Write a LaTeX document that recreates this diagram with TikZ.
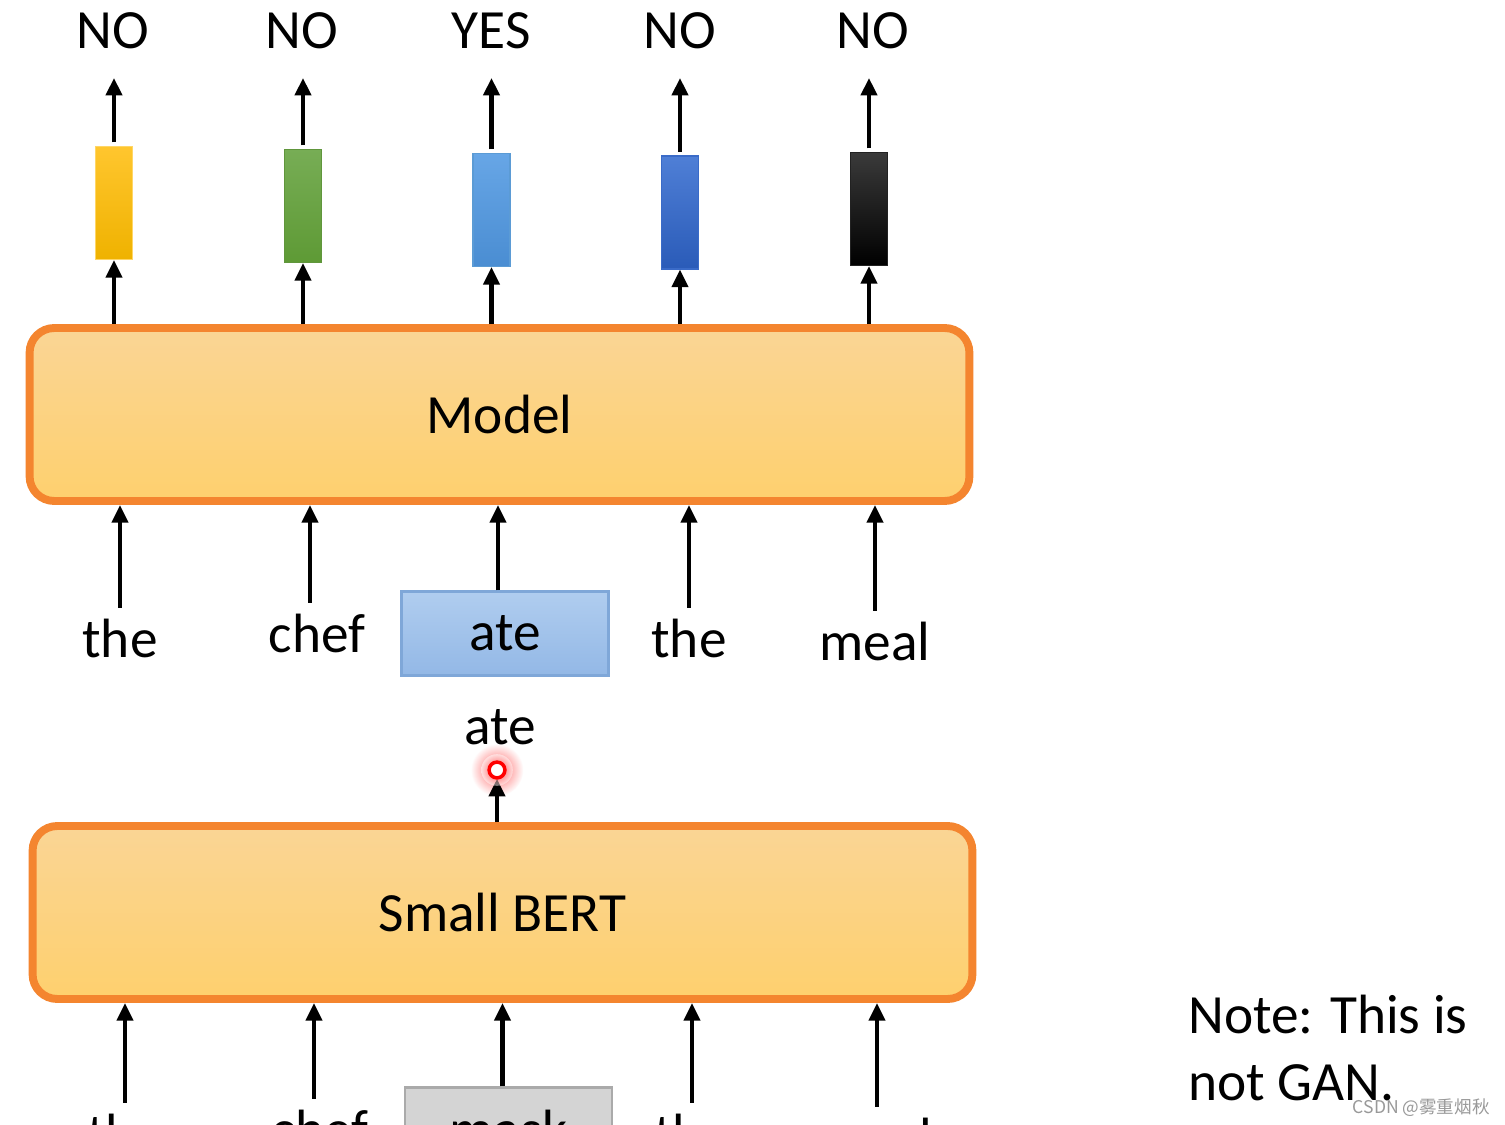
\documentclass[tikz,border=0pt]{standalone}
\usepackage{fontspec}
\setmainfont{Carlito}
\newfontfamily\cjkfont{Noto Sans CJK SC}
\usetikzlibrary{positioning}
\usetikzlibrary{arrows.meta}
\usetikzlibrary{calc}
\definecolor{boxline}{HTML}{F4852F}
\definecolor{boxtop}{HTML}{FAD595}
\definecolor{boxbottom}{HTML}{FED06E}
\definecolor{tokline}{HTML}{7FA7D8}
\definecolor{toktop}{HTML}{B0CDEF}
\definecolor{tokbottom}{HTML}{93B8E6}
\newcommand{\bigtext}{\fontsize{31.5}{37}\selectfont}
\tikzset{big box/.style={draw=boxline,line width=4.5pt,rounded corners=14pt,top color=boxtop,bottom color=boxbottom,minimum width=18.8cm,minimum height=3.46cm,font=\bigtext},
	vec/.style={minimum width=0.74cm,minimum height=2.26cm,inner sep=0pt,line width=0.6pt},
	word/.style={anchor=base,inner sep=6pt,font=\bigtext},
	tok box/.style={minimum width=4.14cm,minimum height=1.68cm,line width=1.2pt,font=\bigtext},
	pointer/.style={circle,draw=red,line width=2pt,fill=white,minimum size=9pt,inner sep=0pt},
	up/.style={-{Triangle[length=10pt,width=9pt]},line width=2.8pt},}

\begin{document}
\begin{tikzpicture}[x=0.02cm,y=-0.02cm]
		\useasboundingbox (0,0) rectangle (1505,1125);
		\clip (0,0) rectangle (1505,1125);
		\fill[white] (0,0) rectangle (1505,1125);

		\node[vec,top color={rgb,255:red,255;green,198;blue,46},bottom color={rgb,255:red,239;green,178;blue,0},draw={rgb,255:red,255;green,214;blue,102}] (v1) at (114,203) {};
		\node[vec,top color={rgb,255:red,119;green,173;blue,85},bottom color={rgb,255:red,94;green,154;blue,53},draw={rgb,255:red,96;green,150;blue,60}] (v2) at (303,206) {};
		\node[vec,top color={rgb,255:red,103;green,166;blue,230},bottom color={rgb,255:red,74;green,141;blue,210},draw={rgb,255:red,91;green,155;blue,213}] (v3) at (491.5,210) {};
		\node[vec,top color={rgb,255:red,79;green,127;blue,214},bottom color={rgb,255:red,42;green,91;blue,184},draw={rgb,255:red,58;green,107;blue,200}] (v4) at (680,212.5) {};
		\node[vec,top color={rgb,255:red,58;green,58;blue,58},bottom color=black,draw={rgb,255:red,34;green,34;blue,34}] (v5) at (869,209) {};

		\node[word] (o1) at (113,49) {NO};
		\node[word] (o2) at (302,49) {NO};
		\node[word] (o3) at (491,49) {YES};
		\node[word] (o4) at (680,49) {NO};
		\node[word] (o5) at (873,49) {NO};

		\node[big box] (model) at (499.5,414.5) {Model};

		\node[word] (w1) at (120,657) {the};
		\node[word] (w2) at (317,652) {chef};
		\node[tok box,top color=toktop,bottom color=tokbottom,draw=tokline] (w3) at (505,633.5) {ate};
		\node[word] (w4) at (689,657) {the};
		\node[word] (w5) at (875,660) {meal};

		\coordinate (ptrc) at (497,770);
		\shade[opacity=0.85,inner color=red!75,outer color=white] (ptrc) circle (15pt);
		\node[word] (pred) at (500,744) {ate};

		\node[big box] (bert) at (502.5,912.5) {Small BERT};

		\node[word] (m1) at (125,1152) {the};
		\node[word] (m2) at (320,1148) {chef};
		\node[tok box,fill={rgb,255:red,212;green,212;blue,212},draw={rgb,255:red,170;green,170;blue,170}] (m3) at (508.5,1129.5) {mask};
		\node[word] (m4) at (692,1152) {the};
		\node[word] (m5) at (877,1156) {meal};

		\node[anchor=base west,inner sep=0pt,font=\bigtext] (note1) at (1188,1033) {Note: This is};
		\node[anchor=base west,inner sep=0pt,font=\bigtext] (note2) at (1188,1100) {not GAN.};
		\node[anchor=base east,inner sep=0pt,text=gray!80,font=\cjkfont\fontsize{10}{12}\selectfont] (mark) at (1490,1113) {CSDN @雾重烟秋};

		\path[up]
		(v1 |- model.north) edge (v1.south)
		(v2 |- model.north) edge (v2.south)
		(v3 |- model.north) edge (v3.south)
		(v4 |- model.north) edge (v4.south)
		(v5 |- model.north) edge (v5.south)
		(v1.north) edge [shorten <=2pt,shorten >=10pt] (v1 |- o1.south)
		(v2.north) edge [shorten <=2pt,shorten >=10pt] (v2 |- o2.south)
		(v3.north) edge [shorten <=2pt,shorten >=10pt] (v3 |- o3.south)
		(v4.north) edge [shorten <=2pt,shorten >=10pt] (v4 |- o4.south)
		(v5.north) edge [shorten <=2pt,shorten >=10pt] (v5 |- o5.south)
		(w1.north) edge (w1 |- model.south)
		($(w2.north)+(-7,0)$) edge ($(w2 |- model.south)+(-7,0)$)
		($(w3.north)+(-7,0)$) edge ($(w3 |- model.south)+(-7,0)$)
		(w4.north) edge (w4 |- model.south)
		(w5.north) edge (w5 |- model.south)
		(ptrc |- bert.north) edge [shorten >=5pt] (ptrc)
		(m1.north) edge (m1 |- bert.south)
		($(m2.north)+(-6,0)$) edge ($(m2 |- bert.south)+(-6,0)$)
		($(m3.north)+(-6,0)$) edge ($(m3 |- bert.south)+(-6,0)$)
		(m4.north) edge (m4 |- bert.south)
		(m5.north) edge (m5 |- bert.south);

		\shade[opacity=0.5,inner color=red!75,outer color=white] (ptrc) circle (9pt);
		\node[pointer] (ptr) at (ptrc) {};
	\end{tikzpicture}
\end{document}
